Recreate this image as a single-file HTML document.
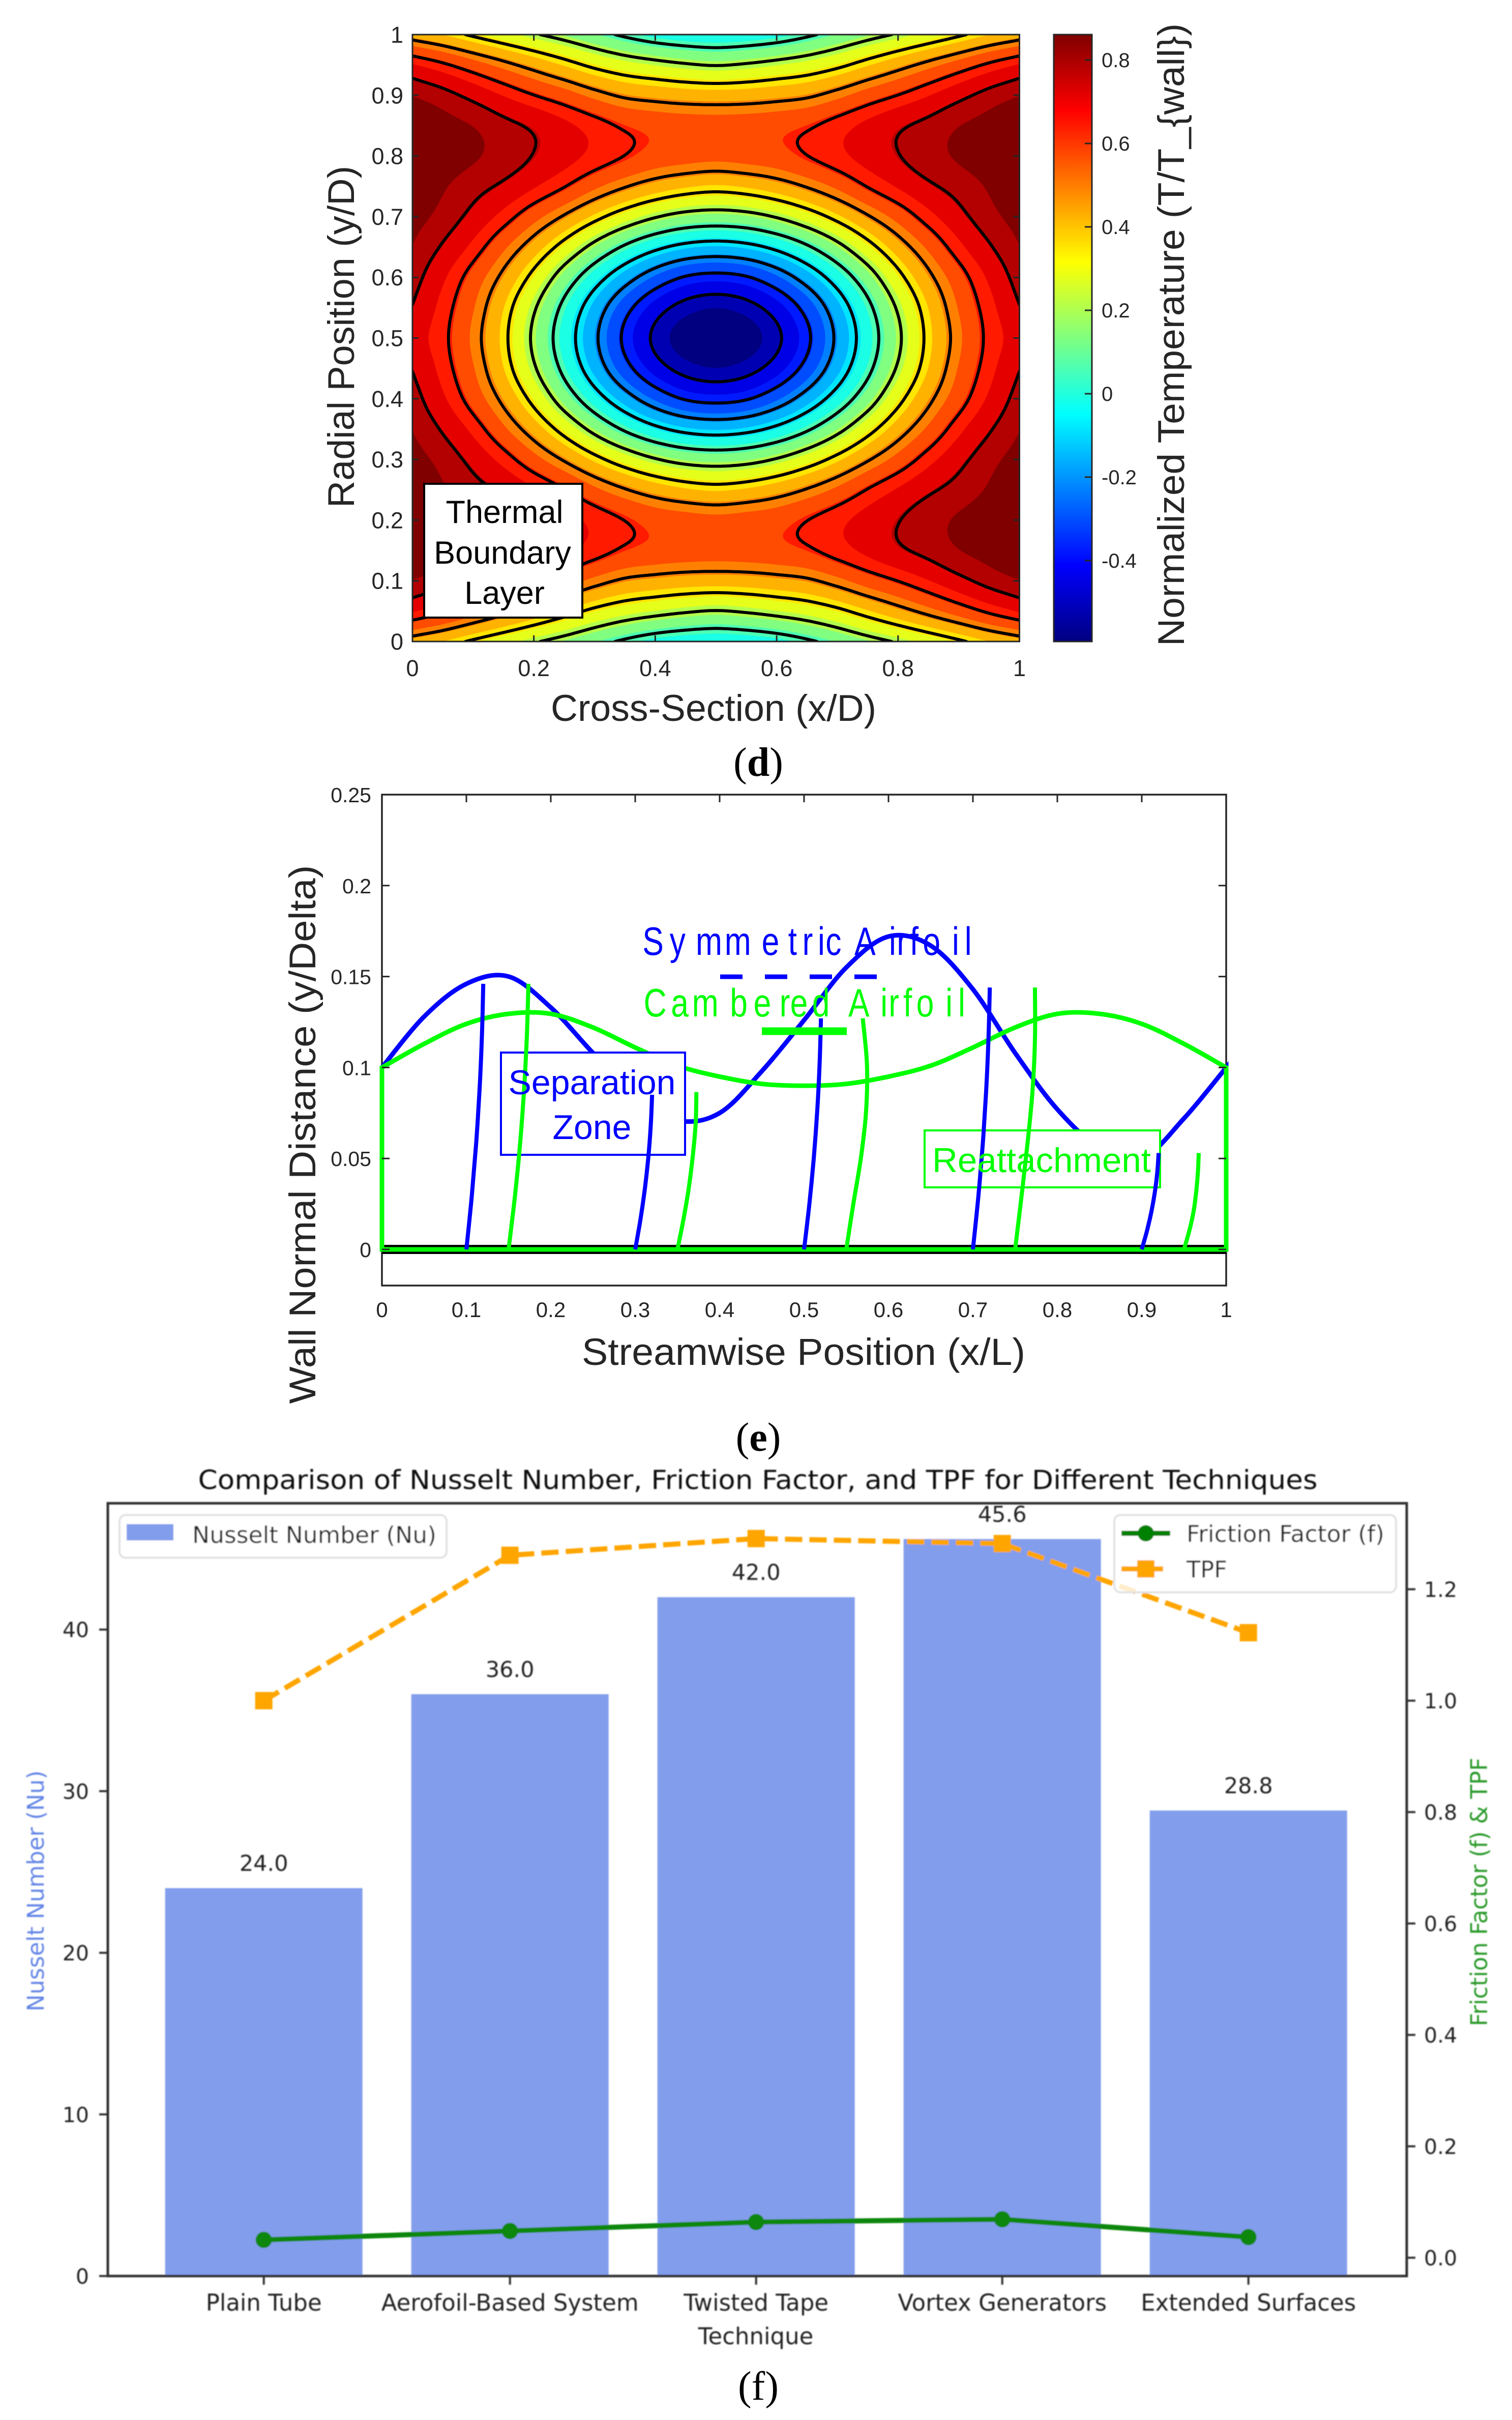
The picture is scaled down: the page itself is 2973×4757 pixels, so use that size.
<!DOCTYPE html>
<html lang="en">
<head>
<meta charset="utf-8">
<title>Thermal, boundary layer and performance charts</title>
<style>
html,body{margin:0;padding:0;background:#fff;}
svg{display:block;}
.sans{font-family:"Liberation Sans",sans-serif;fill:#262626;}
.dj{font-family:"DejaVu Sans",sans-serif;fill:#222;}
.cap{font-family:"Liberation Serif",serif;fill:#000;font-size:80px;text-anchor:middle;}
</style>
</head>
<body>
<svg id="fig" xmlns="http://www.w3.org/2000/svg" width="2973" height="4757" viewBox="0 0 2973 4757">
  <defs>
    <clipPath id="clip-d"><rect x="811" y="68" width="1193.5" height="1193"/></clipPath>
    <linearGradient id="jet-grad" x1="0" y1="1" x2="0" y2="0">
      <stop offset="0" stop-color="#000080"/>
      <stop offset="0.125" stop-color="#0000ff"/>
      <stop offset="0.375" stop-color="#00ffff"/>
      <stop offset="0.625" stop-color="#ffff00"/>
      <stop offset="0.875" stop-color="#ff0000"/>
      <stop offset="1" stop-color="#800000"/>
    </linearGradient>
    <filter id="soft" filterUnits="userSpaceOnUse" x="0" y="2850" width="2973" height="1800">
      <feGaussianBlur stdDeviation="1.1"/>
    </filter>
  </defs>
  <rect x="0" y="0" width="2973" height="4757" fill="#fff"/>

  <!-- panel d -->
  <g id="panel-d">
    <g id="d-fills" clip-path="url(#clip-d)"></g>
    <g id="d-lines" clip-path="url(#clip-d)"></g>
    <rect x="811" y="68" width="1193.5" height="1193" fill="none" stroke="#262626" stroke-width="3"/>
    <g id="d-ticks"></g>
    <rect x="2072" y="68" width="75" height="1193" fill="url(#jet-grad)" stroke="#262626" stroke-width="3"/>
    <g id="d-cbticks"></g>
    <g>
      <rect x="834" y="951" width="311" height="263" fill="#fff" stroke="#000" stroke-width="4"/>
      <text class="sans" style="fill:#000" font-size="63" text-anchor="middle" x="992" y="1028">Thermal</text>
      <text class="sans" style="fill:#000" font-size="63" text-anchor="middle" x="988" y="1108">Boundary</text>
      <text class="sans" style="fill:#000" font-size="63" text-anchor="middle" x="992" y="1187">Layer</text>
    </g>
    <text class="sans" font-size="73" text-anchor="middle" x="1403" y="1417" textLength="640" lengthAdjust="spacingAndGlyphs">Cross-Section (x/D)</text>
    <text class="sans" font-size="73" text-anchor="middle" transform="translate(696,662) rotate(-90)" textLength="672" lengthAdjust="spacingAndGlyphs">Radial Position (y/D)</text>
    <text class="sans" font-size="73" text-anchor="middle" transform="translate(2328,658) rotate(-90)" textLength="1224" lengthAdjust="spacingAndGlyphs">Normalized Temperature (T/T_{wall})</text>
    <text class="cap" x="1491" y="1525">(<tspan font-weight="bold">d</tspan>)</text>
  </g>

  <!-- panel e -->
  <g id="panel-e">
    <rect x="751" y="1562" width="1660" height="965" fill="none" stroke="#262626" stroke-width="3.5"/>
    <g id="e-walls"></g>
    <rect x="985" y="2069" width="362" height="201" fill="#fff" stroke="#0000ff" stroke-width="4"/>
    <rect x="1818" y="2222" width="463" height="112" fill="#fff" stroke="#00ff00" stroke-width="4"/>
    <g id="e-profiles"></g>
    <g id="e-ticks"></g>
    <text class="sans" style="fill:#0000ff" font-size="68" text-anchor="middle" x="1164" y="2151" textLength="329" lengthAdjust="spacingAndGlyphs">Separation</text>
    <text class="sans" style="fill:#0000ff" font-size="68" text-anchor="middle" x="1164" y="2239">Zone</text>
    <text class="sans" style="fill:#00ff00" font-size="68" x="1833" y="2304" textLength="430" lengthAdjust="spacingAndGlyphs">Reattachment</text>
    <g transform="scale(0.8,1)">
      <text class="sans" style="fill:#0000ff" font-size="78" y="1877" x="1579 1646 1710 1781 1872 1937 1972 2010 2029 2075 2100 2185 2204 2236 2268 2340 2371">Symmetric Airfoil</text>
      <text class="sans" style="fill:#00ff00" font-size="78" y="1998" x="1582 1649 1701 1794 1852 1916 1942 1996 2050 2085 2164 2184 2220 2252 2324 2355">Cambered Airfoil</text>
    </g>
    <line x1="1416" y1="1920" x2="1727" y2="1920" stroke="#0000ff" stroke-width="9" stroke-dasharray="44 44"/>
    <line x1="1498" y1="2027" x2="1665" y2="2027" stroke="#00ff00" stroke-width="15"/>
    <text class="sans" font-size="74" text-anchor="middle" x="1580" y="2683" textLength="872" lengthAdjust="spacingAndGlyphs">Streamwise Position (x/L)</text>
    <text class="sans" font-size="73" text-anchor="middle" transform="translate(620,2230) rotate(-90)" textLength="1059" lengthAdjust="spacingAndGlyphs">Wall Normal Distance (y/Delta)</text>
    <text class="cap" x="1491" y="2852">(<tspan font-weight="bold">e</tspan>)</text>
  </g>

  <!-- panel f -->
  <g id="panel-f" filter="url(#soft)">
    <text class="dj" style="fill:#111" font-size="52" text-anchor="middle" x="1490" y="2927" textLength="2201" lengthAdjust="spacingAndGlyphs">Comparison of Nusselt Number, Friction Factor, and TPF for Different Techniques</text>
    <g id="f-bars"></g>
    <g id="f-lines"></g>
    <rect x="212" y="2955" width="2554" height="1519" fill="none" stroke="#333" stroke-width="5"/>
    <g id="f-ticks"></g>
    <text class="dj" font-size="45" text-anchor="middle" x="1486" y="4608">Technique</text>
    <text class="dj" style="fill:#6586e6" font-size="45" text-anchor="middle" transform="translate(86,3717) rotate(-90)" textLength="474" lengthAdjust="spacingAndGlyphs">Nusselt Number (Nu)</text>
    <text class="dj" style="fill:#2a9a2a" font-size="45" text-anchor="middle" transform="translate(2924,3719) rotate(-90)" textLength="528" lengthAdjust="spacingAndGlyphs">Friction Factor (f) &amp; TPF</text>
    <g>
      <rect x="235" y="2978" width="643" height="84" rx="12" fill="#fff" fill-opacity="0.8" stroke="#e2e2e2" stroke-width="4"/>
      <rect x="249" y="2996" width="92" height="32" fill="#829dec"/>
      <text class="dj" font-size="45" x="378" y="3033" textLength="480" lengthAdjust="spacingAndGlyphs">Nusselt Number (Nu)</text>
    </g>
    <g>
      <rect x="2191" y="2978" width="554" height="152" rx="12" fill="#fff" fill-opacity="0.8" stroke="#e2e2e2" stroke-width="4"/>
      <line x1="2205" y1="3014" x2="2301" y2="3014" stroke="#008000" stroke-width="10"/>
      <circle cx="2253" cy="3014" r="16" fill="#008000"/>
      <text class="dj" font-size="45" x="2333" y="3031" textLength="389" lengthAdjust="spacingAndGlyphs">Friction Factor (f)</text>
      <line x1="2205" y1="3084" x2="2301" y2="3084" stroke="#ffa500" stroke-width="10" stroke-dasharray="34 14"/>
      <rect x="2236" y="3067" width="34" height="34" fill="#ffa500"/>
      <text class="dj" font-size="45" x="2333" y="3101" textLength="80" lengthAdjust="spacingAndGlyphs">TPF</text>
    </g>
  </g>
  <text class="cap" x="1491" y="4717">(f)</text>
</svg>

<script>
/* ---------- panel d data: temperature read from the contour map (quarter field, mirrored) ---------- */
/* rows: y = 0, 0.05 ... 0.5; columns: x = 0, 0.05 ... 0.5 */
const temperatureGrid = [
  [0.42,0.375,0.317,0.262,0.21,0.16,0.105,0.05,0.005,-0.02,-0.03],
  [0.66,0.61,0.55,0.49,0.43,0.37,0.31,0.265,0.235,0.21,0.195],
  [0.79,0.755,0.705,0.65,0.598,0.55,0.495,0.45,0.43,0.415,0.41],
  [0.84,0.815,0.79,0.75,0.715,0.67,0.625,0.585,0.565,0.555,0.55],
  [0.86,0.83,0.80,0.768,0.725,0.68,0.635,0.595,0.56,0.545,0.535],
  [0.85,0.80,0.755,0.715,0.66,0.60,0.53,0.47,0.42,0.385,0.368],
  [0.82,0.77,0.705,0.63,0.542,0.455,0.362,0.277,0.207,0.161,0.146],
  [0.79,0.72,0.635,0.529,0.418,0.294,0.166,0.052,-0.038,-0.096,-0.116],
  [0.76,0.665,0.56,0.442,0.301,0.142,-0.01,-0.147,-0.26,-0.337,-0.36],
  [0.725,0.63,0.52,0.378,0.213,0.039,-0.133,-0.293,-0.418,-0.495,-0.523],
  [0.69,0.615,0.50,0.356,0.18,0.002,-0.177,-0.348,-0.48,-0.562,-0.594]
];
const contourTicksX = [0,0.2,0.4,0.6,0.8,1];
const contourTicksY = [0,0.1,0.2,0.3,0.4,0.5,0.6,0.7,0.8,0.9,1];
const colorbarTicks = [-0.4,-0.2,0,0.2,0.4,0.6,0.8];
const colorMin = -0.594;
const colorMax = 0.861;
const fillBandCount = 21;
const lineLevelCount = 10;

/* ---------- panel e data ---------- */
const streamPositions = [0,0.05,0.1,0.15,0.2,0.25,0.3,0.35,0.4,0.45,0.5,0.55,0.6,0.65,0.7,0.75,0.8,0.85,0.9,0.95,1];
const symmetricWall = [0.1,0.128,0.146,0.15,0.133,0.108,0.085,0.071,0.075,0.098,0.126,0.155,0.172,0.167,0.143,0.108,0.077,0.056,0.05,0.072,0.1];
const camberedWall = [0.1,0.113,0.124,0.1295,0.1295,0.122,0.111,0.101,0.095,0.091,0.09,0.091,0.095,0.101,0.111,0.122,0.1295,0.1295,0.124,0.113,0.1];
const profileFractions = [0,0.2,0.4,0.6,0.8,1];
const symmetricStations = [0.1,0.3,0.5,0.7,0.9];
const symmetricTops = [0.146,0.085,0.127,0.144,0.053];
const symmetricOffsets = [
  [0,0.0064,0.0116,0.0156,0.0184,0.02],
  [0,0.0064,0.0116,0.0156,0.0184,0.02],
  [0,0.0064,0.0116,0.0156,0.0184,0.02],
  [0,0.0064,0.0116,0.0156,0.0184,0.02],
  [0,0.0064,0.0116,0.0156,0.0184,0.02]
];
const camberedStations = [0.15,0.35,0.55,0.75,0.95];
const camberedTops = [0.146,0.0865,0.127,0.144,0.053];
const camberedOffsets = [
  [0,0.0075,0.0137,0.0183,0.0216,0.0235],
  [0,0.0075,0.0137,0.0183,0.0216,0.0225],
  [0,0.0085,0.0175,0.0235,0.0245,0.0195],
  [0,0.0075,0.0145,0.0205,0.0235,0.0235],
  [0,0.0065,0.0115,0.0145,0.0165,0.0175]
];
const streamTicks = [0,0.1,0.2,0.3,0.4,0.5,0.6,0.7,0.8,0.9,1];
const normalTicks = [0,0.05,0.1,0.15,0.2,0.25];
const normalTickLabels = ['0','0.05','0.1','0.15','0.2','0.25'];

/* ---------- panel f data ---------- */
const techniques = ['Plain Tube','Aerofoil-Based System','Twisted Tape','Vortex Generators','Extended Surfaces'];
const nusseltValues = [24.0,36.0,42.0,45.6,28.8];
const frictionValues = [0.032,0.048,0.064,0.069,0.037];
const tpfValues = [1.0,1.261,1.291,1.282,1.122];
const nusseltTicks = [0,10,20,30,40];
const secondaryTicks = [0,0.2,0.4,0.6,0.8,1.0,1.2];

/* ---------- helpers ---------- */
const NS = 'http://www.w3.org/2000/svg';
function mk(parentId, tag, props, txt) {
  const node = document.createElementNS(NS, tag);
  for (const key in props) node.setAttribute(key, props[key]);
  if (txt !== undefined) node.textContent = txt;
  document.getElementById(parentId).appendChild(node);
  return node;
}
function jet(t) {
  const ramp = (a) => Math.max(0, Math.min(1, 1.5 - Math.abs(4 * t - a)));
  const c = [ramp(3), ramp(2), ramp(1)].map(v => Math.round(v * 255));
  return 'rgb(' + c[0] + ',' + c[1] + ',' + c[2] + ')';
}
function smoothPath(pts) {
  let d = 'M' + pts[0][0].toFixed(1) + ' ' + pts[0][1].toFixed(1);
  for (let i = 0; i < pts.length - 1; i++) {
    const p0 = pts[Math.max(0, i - 1)], p1 = pts[i], p2 = pts[i + 1], p3 = pts[Math.min(pts.length - 1, i + 2)];
    d += 'C' + (p1[0] + (p2[0] - p0[0]) / 6).toFixed(1) + ' ' + (p1[1] + (p2[1] - p0[1]) / 6).toFixed(1) + ' ' +
      (p2[0] - (p3[0] - p1[0]) / 6).toFixed(1) + ' ' + (p2[1] - (p3[1] - p1[1]) / 6).toFixed(1) + ' ' +
      p2[0].toFixed(1) + ' ' + p2[1].toFixed(1);
  }
  return d;
}

/* ---------- panel d ---------- */
const dX = v => 811 + v * 1193.5;
const dY = v => 1261 - v * 1193;
const cbY = v => 1261 - (v - colorMin) / (colorMax - colorMin) * 1193;

function gridAt(r, c) {
  if (c > 10) c = 20 - c;
  if (r > 10) r = 20 - r;
  if (r < 0) {
    const a = gridAt(0, c), b = gridAt(1, c);
    return 2 * a - b;
  }
  if (c < 0) return 2 * temperatureGrid[r][0] - temperatureGrid[r][1];
  return temperatureGrid[r][c];
}
function cubic(a, b, c, d, t) {
  return 0.5 * (2 * b + (c - a) * t + (2 * a - 5 * b + 4 * c - d) * t * t + (3 * b - a - 3 * c + d) * t * t * t);
}
function fieldAt(x, y) {
  const fx = Math.min(x, 1 - x) * 20, fy = Math.min(y, 1 - y) * 20;
  const ci = Math.min(9, Math.floor(fx)), ri = Math.min(9, Math.floor(fy));
  const tx = fx - ci, ty = fy - ri;
  const rowVal = [];
  for (let k = -1; k <= 2; k++) {
    rowVal.push(cubic(gridAt(ri + k, ci - 1), gridAt(ri + k, ci), gridAt(ri + k, ci + 1), gridAt(ri + k, ci + 2), tx));
  }
  return cubic(rowVal[0], rowVal[1], rowVal[2], rowVal[3], ty);
}
const res = 220;
const field = [];
for (let j = 0; j <= res; j++) {
  const row = [];
  for (let i = 0; i <= res; i++) row.push(fieldAt(i / res, j / res));
  field.push(row);
}
function regionPath(level) {
  const parts = [];
  for (let j = 0; j < res; j++) {
    let runStart = -1;
    for (let i = 0; i <= res; i++) {
      const full = i < res && field[j][i] >= level && field[j][i + 1] >= level && field[j + 1][i] >= level && field[j + 1][i + 1] >= level;
      if (full) { if (runStart < 0) runStart = i; continue; }
      if (runStart >= 0) {
        const x0 = dX(runStart / res).toFixed(1), x1 = dX(i / res).toFixed(1), y0 = dY(j / res).toFixed(1), y1 = dY((j + 1) / res).toFixed(1);
        parts.push('M' + x0 + ' ' + y0 + 'L' + x1 + ' ' + y0 + 'L' + x1 + ' ' + y1 + 'L' + x0 + ' ' + y1 + 'Z');
        runStart = -1;
      }
      if (i === res) continue;
      const corners = [[i, j], [i + 1, j], [i + 1, j + 1], [i, j + 1]];
      const poly = [];
      for (let k = 0; k < 4; k++) {
        const a = corners[k], b = corners[(k + 1) % 4];
        const va = field[a[1]][a[0]], vb = field[b[1]][b[0]];
        if (va >= level) poly.push([a[0], a[1]]);
        if ((va >= level) !== (vb >= level)) {
          const t = (level - va) / (vb - va);
          poly.push([a[0] + (b[0] - a[0]) * t, a[1] + (b[1] - a[1]) * t]);
        }
      }
      if (poly.length > 2) {
        parts.push('M' + poly.map(p => dX(p[0] / res).toFixed(1) + ' ' + dY(p[1] / res).toFixed(1)).join('L') + 'Z');
      }
    }
  }
  return parts.join('');
}
function linePath(level) {
  const parts = [];
  for (let j = 0; j < res; j++) {
    for (let i = 0; i < res; i++) {
      const corners = [[i, j], [i + 1, j], [i + 1, j + 1], [i, j + 1]];
      const cross = [];
      for (let k = 0; k < 4; k++) {
        const a = corners[k], b = corners[(k + 1) % 4];
        const va = field[a[1]][a[0]], vb = field[b[1]][b[0]];
        if ((va >= level) !== (vb >= level)) {
          const t = (level - va) / (vb - va);
          cross.push([a[0] + (b[0] - a[0]) * t, a[1] + (b[1] - a[1]) * t]);
        }
      }
      for (let k = 0; k + 1 < cross.length; k += 2) {
        parts.push('M' + dX(cross[k][0] / res).toFixed(1) + ' ' + dY(cross[k][1] / res).toFixed(1) +
          'L' + dX(cross[k + 1][0] / res).toFixed(1) + ' ' + dY(cross[k + 1][1] / res).toFixed(1));
      }
    }
  }
  return parts.join('');
}
const bandStep = (colorMax - colorMin) / fillBandCount;
for (let k = 0; k < fillBandCount; k++) {
  const level = colorMin + k * bandStep;
  const color = jet(k / (fillBandCount - 1));
  const band = mk('d-fills', 'path', { d: k === 0 ? 'M811 68H2004.5V1261H811Z' : regionPath(level), fill: color });
  
  
}
for (let k = 1; k <= lineLevelCount; k++) {
  const level = colorMin + k * (colorMax - colorMin) / (lineLevelCount + 1);
  const iso = mk('d-lines', 'path', { d: linePath(level), fill: 'none', stroke: '#000', 'stroke-width': 6, 'stroke-linecap': 'round' });
  
  
}
contourTicksX.forEach(v => {
  const t = mk('d-ticks', 'path', { d: 'M' + dX(v) + ' 1261v-12M' + dX(v) + ' 68v12', stroke: '#262626', 'stroke-width': 3 });
  
  
  const lab = mk('d-ticks', 'text', { class: 'sans', 'font-size': 45, 'text-anchor': 'middle', x: dX(v), y: 1329 }, String(v));
  
  
});
contourTicksY.forEach(v => {
  const t = mk('d-ticks', 'path', { d: 'M811 ' + dY(v) + 'h12M2004.5 ' + dY(v) + 'h-12', stroke: '#262626', 'stroke-width': 3 });
  
  
  const lab = mk('d-ticks', 'text', { class: 'sans', 'font-size': 45, 'text-anchor': 'end', x: 793, y: dY(v) + 16 }, String(v));
  
  
});
colorbarTicks.forEach(v => {
  const t = mk('d-cbticks', 'path', { d: 'M2147 ' + cbY(v) + 'h-14', stroke: '#262626', 'stroke-width': 3 });
  
  
  const lab = mk('d-cbticks', 'text', { class: 'sans', 'font-size': 40, x: 2166, y: cbY(v) + 14 }, String(v));
  
  
});

/* ---------- panel e ---------- */
const eX = v => 751 + v * 1660;
const eY = v => 2456 - v * 3576;

const blackBase = mk('e-walls', 'line', { x1: 751, x2: 2411, y1: eY(0), y2: eY(0), stroke: '#000', 'stroke-width': 18 });



function wallOutline(vals) {
  const pts = streamPositions.map((x, i) => [eX(x), eY(vals[i])]);
  return 'M' + eX(0) + ' ' + eY(0) + 'L' + pts[0][0] + ' ' + pts[0][1] + smoothPath(pts).replace(/^M[^C]*/, '') +
    'L' + eX(1) + ' ' + eY(0) + 'Z';
}
const symCurve = mk('e-walls', 'path', { d: wallOutline(symmetricWall), fill: 'none', stroke: '#0000ff', 'stroke-width': 9 });


const camCurve = mk('e-walls', 'path', { d: wallOutline(camberedWall), fill: 'none', stroke: '#00ff00', 'stroke-width': 9 });



symmetricStations.forEach((x0, i) => {
  const pts = profileFractions.map((s, k) => [eX(x0 + symmetricOffsets[i][k]), eY(s * symmetricTops[i])]);
  const p = mk('e-profiles', 'path', { d: smoothPath(pts), fill: 'none', stroke: '#0000ff', 'stroke-width': 8 });
  
  
});
camberedStations.forEach((x0, i) => {
  const pts = profileFractions.map((s, k) => [eX(x0 + camberedOffsets[i][k]), eY(s * camberedTops[i])]);
  const p = mk('e-profiles', 'path', { d: smoothPath(pts), fill: 'none', stroke: '#00ff00', 'stroke-width': 8 });
  
  
});
streamTicks.forEach(v => {
  const t = mk('e-ticks', 'path', { d: 'M' + eX(v) + ' 1562v15', stroke: '#262626', 'stroke-width': 3 });
  
  
  const lab = mk('e-ticks', 'text', { class: 'sans', 'font-size': 42, 'text-anchor': 'middle', x: eX(v), y: 2589 }, String(v));
  
  
});
normalTicks.forEach((v, i) => {
  const t = mk('e-ticks', 'path', { d: 'M751 ' + eY(v) + 'h15M2411 ' + eY(v) + 'h-15', stroke: '#262626', 'stroke-width': 3 });
  
  
  const lab = mk('e-ticks', 'text', { class: 'sans', 'font-size': 41, 'text-anchor': 'end', x: 730, y: eY(v) + 15 }, normalTickLabels[i]);
  
  
});

/* ---------- panel f ---------- */
const fX = i => 518.7 + i * 484;
const fY = v => 4474 - v * 31.77;
const fY2 = v => 4438 - v * 1095;
const barHalf = 194;

techniques.forEach((name, i) => {
  const bar = mk('f-bars', 'rect', { x: fX(i) - barHalf, y: fY(nusseltValues[i]), width: barHalf * 2, height: fY(0) - fY(nusseltValues[i]), fill: '#829dec' });
  
  
  const val = mk('f-bars', 'text', { class: 'dj', 'font-size': 43, 'text-anchor': 'middle', x: fX(i), y: fY(nusseltValues[i]) - 34 }, nusseltValues[i].toFixed(1));
  
  
  const t = mk('f-ticks', 'path', { d: 'M' + fX(i) + ' 4474v17', stroke: '#333', 'stroke-width': 4 });
  
  
  const lab = mk('f-ticks', 'text', { class: 'dj', 'font-size': 45, 'text-anchor': 'middle', x: fX(i), y: 4542 }, name);
  
  
});
const frictionPts = frictionValues.map((v, i) => fX(i) + ',' + fY2(v)).join(' ');
const frictionLine = mk('f-lines', 'polyline', { points: frictionPts, fill: 'none', stroke: '#0f870f', 'stroke-width': 10 });


const tpfPts = tpfValues.map((v, i) => fX(i) + ',' + fY2(v)).join(' ');
const tpfLine = mk('f-lines', 'polyline', { points: tpfPts, fill: 'none', stroke: '#ffa500', 'stroke-width': 10, 'stroke-dasharray': '34 14' });


frictionValues.forEach((v, i) => {
  const m = mk('f-lines', 'circle', { cx: fX(i), cy: fY2(v), r: 16, fill: '#0f870f' });
  
  
});
tpfValues.forEach((v, i) => {
  const m = mk('f-lines', 'rect', { x: fX(i) - 17, y: fY2(v) - 17, width: 34, height: 34, fill: '#ffa500' });
  
  
});
nusseltTicks.forEach(v => {
  const t = mk('f-ticks', 'path', { d: 'M212 ' + fY(v) + 'h-17', stroke: '#333', 'stroke-width': 4 });
  
  
  const lab = mk('f-ticks', 'text', { class: 'dj', 'font-size': 41, 'text-anchor': 'end', x: 175, y: fY(v) + 15 }, String(v));
  
  
});
secondaryTicks.forEach(v => {
  const t = mk('f-ticks', 'path', { d: 'M2766 ' + fY2(v) + 'h17', stroke: '#333', 'stroke-width': 4 });
  
  
  const lab = mk('f-ticks', 'text', { class: 'dj', 'font-size': 41, x: 2800, y: fY2(v) + 15 }, v.toFixed(1));
  
  
});
</script>
</body>
</html>
